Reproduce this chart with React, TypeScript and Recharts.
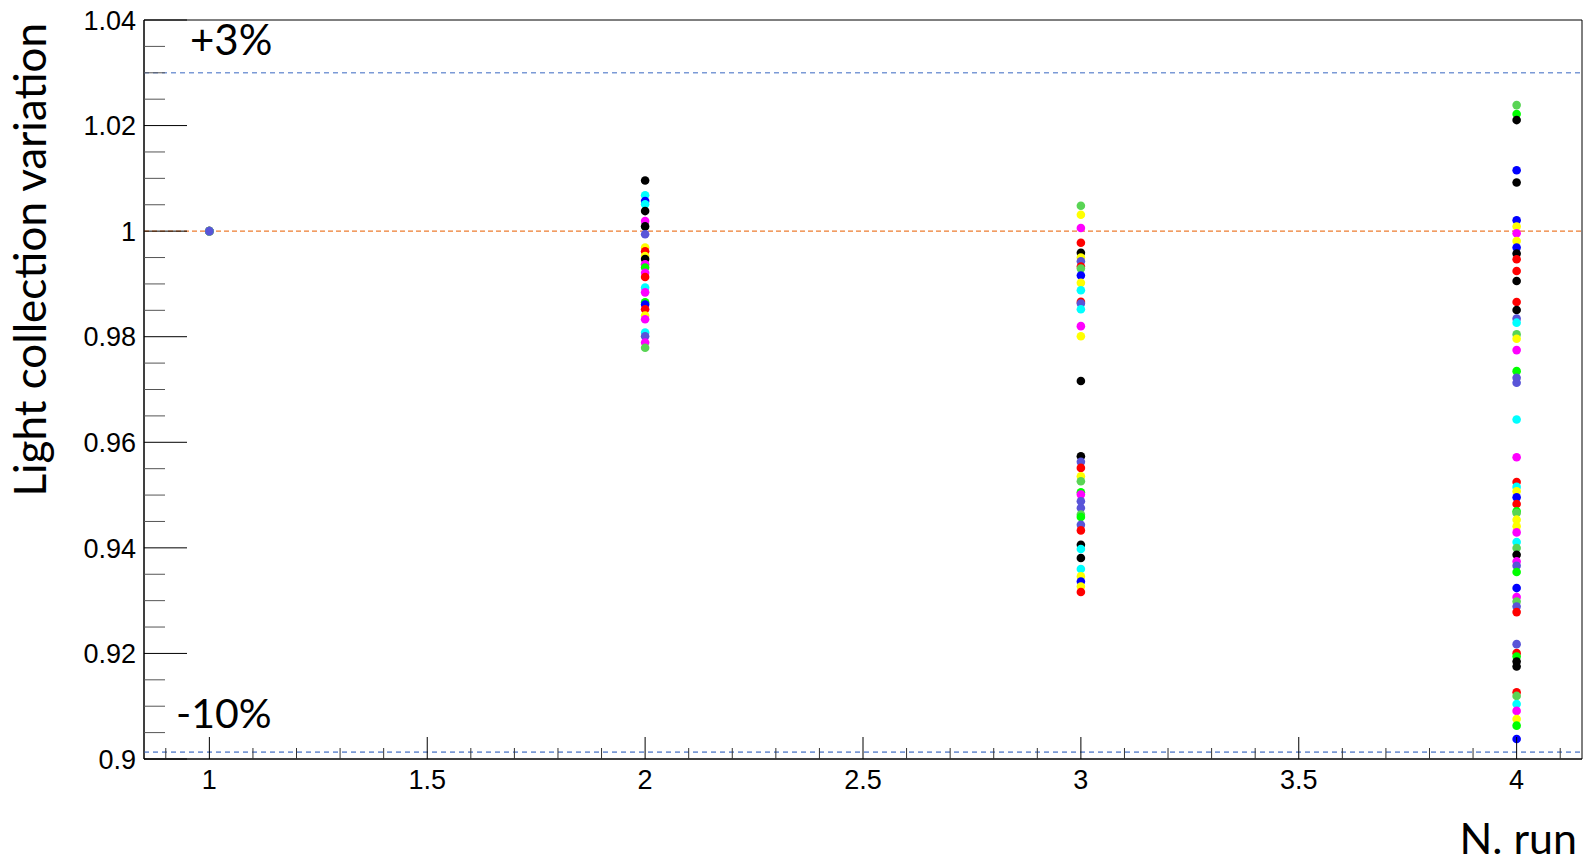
import React from 'react';
import {
  ScatterChart,
  Scatter,
  XAxis,
  YAxis,
  ReferenceLine,
  ReferenceArea,
} from 'recharts';

// ROOT palette, colour indices 1..9
const palette: Record<string, string> = {
  k: '#000000',
  r: '#ff0000',
  g: '#00ff00',
  b: '#0000ff',
  y: '#ffff00',
  m: '#ff00ff',
  c: '#00ffff',
  l: '#59d454',
  s: '#5954d8',
};

const runNumbers = [1, 2, 3, 4];

// Relative light collection per channel, one list per run
const run1Values = [1.0, 1.0, 1.0, 1.0, 1.0, 1.0, 1.0, 1.0, 1.0];
const run1Colors = ['k', 'r', 'g', 'b', 'y', 'm', 'c', 'l', 's'];

const run2Values = [
  1.0096, 1.0068, 1.0057, 1.0051, 1.0038, 1.0019, 1.0009, 0.9994, 0.9969, 0.9962,
  0.9953, 0.9947, 0.9937, 0.9931, 0.9921, 0.9913, 0.9893, 0.9884, 0.9865, 0.9861,
  0.9852, 0.984, 0.9833, 0.9808, 0.9801, 0.9789, 0.9779,
];
const run2Colors = [
  'k', 'c', 'b', 'c', 'k', 'm', 'k', 's', 'y', 'r',
  'y', 'k', 'm', 'g', 'm', 'r', 'c', 'm', 'g', 'b',
  'r', 'y', 'm', 'c', 's', 'm', 'l',
];

const run3Values = [
  1.0048, 1.0031, 1.0006, 0.9978, 0.9959, 0.995, 0.9943, 0.9933, 0.9929, 0.9916,
  0.9902, 0.9888, 0.9866, 0.9863, 0.9852, 0.982, 0.9801, 0.9716, 0.95735, 0.95629,
  0.95515, 0.95356, 0.95261, 0.95052, 0.95009, 0.94882, 0.94756, 0.94629, 0.94585, 0.94439,
  0.94331, 0.9406, 0.93978, 0.93808, 0.93599, 0.93459, 0.93364, 0.93269, 0.93163,
];
const run3Colors = [
  'l', 'y', 'm', 'r', 'k', 'y', 's', 'r', 'l', 'b',
  'y', 'c', 'r', 's', 'c', 'm', 'y', 'k', 'k', 's',
  'r', 'y', 'l', 'g', 'm', 's', 's', 'l', 'g', 's',
  'r', 'k', 'c', 'k', 'c', 'y', 'b', 'y', 'r',
];

const run4Values = [
  1.02388, 1.02218, 1.02104, 1.01155, 1.00922, 1.00207, 1.00087, 0.9996, 0.99814, 0.99689,
  0.99575, 0.99467, 0.99245, 0.99055, 0.98657, 0.98505, 0.98342, 0.98266, 0.98044, 0.97962,
  0.97746, 0.97348, 0.97222, 0.97128, 0.96431, 0.95716, 0.95249, 0.95155, 0.95071, 0.94957,
  0.94832, 0.94692, 0.94661, 0.94534, 0.94407, 0.94293, 0.94111, 0.93997, 0.9387, 0.93743,
  0.93662, 0.93542, 0.93238, 0.93067, 0.92984, 0.92889, 0.92783, 0.92176, 0.92005, 0.91941,
  0.91846, 0.91751, 0.91265, 0.91195, 0.91043, 0.90911, 0.90759, 0.90632, 0.90379,
];
const run4Colors = [
  'l', 'g', 'k', 'b', 'k', 'b', 'y', 'm', 'y', 'b',
  'k', 'r', 'r', 'k', 'r', 'k', 's', 'c', 'l', 'y',
  'm', 'g', 's', 's', 'c', 'm', 'r', 'c', 'y', 'b',
  'r', 'g', 'l', 'y', 'y', 'm', 'c', 'l', 'k', 'm',
  's', 'g', 'b', 'm', 'l', 's', 'r', 's', 'r', 'g',
  'k', 'k', 'r', 'l', 'c', 'm', 'y', 'g', 'b',
];

const runValues = [run1Values, run2Values, run3Values, run4Values];
const runColors = [run1Colors, run2Colors, run3Colors, run4Colors];

// Reference bands
const upperLimit = 1.03;
const nominal = 1.0;
const lowerLimit = 0.9013;

// Axes
const xDomain: [number, number] = [0.85, 4.15];
const yDomain: [number, number] = [0.9, 1.04];
const xMajorTicks = [1, 1.5, 2, 2.5, 3, 3.5, 4];
const xTickLabels = ['1', '1.5', '2', '2.5', '3', '3.5', '4'];
const yMajorTicks = [0.9, 0.92, 0.94, 0.96, 0.98, 1.0, 1.02, 1.04];
const yTickLabels = ['0.9', '0.92', '0.94', '0.96', '0.98', '1', '1.02', '1.04'];
const xTicks = Array.from({ length: 33 }, (_, i) => +(0.9 + i * 0.1).toFixed(2));
const yTicks = Array.from({ length: 29 }, (_, i) => +(0.9 + i * 0.005).toFixed(3));

const points = runNumbers.flatMap((run, i) =>
  runValues[i].map((v, j) => ({ x: run, y: v, color: palette[runColors[i][j]] }))
);

const tickFont = '"Liberation Sans", Arial, sans-serif';
const titleFont = 'Lato, "Open Sans", sans-serif';

const findMajor = (list: number[], v: number) =>
  list.findIndex((t) => Math.abs(t - v) < 1e-6);

const YTick = (props: any) => {
  const { x, y, payload } = props;
  const idx = findMajor(yMajorTicks, payload.value);
  const major = idx >= 0;
  return (
    <g>
      <line
        x1={x}
        x2={x + (major ? 43 : 21)}
        y1={y}
        y2={y}
        stroke={major ? '#000' : '#555'}
        strokeWidth={1}
      />
      {major && (
        <text
          x={x - 8}
          y={y}
          dy="0.36em"
          textAnchor="end"
          fontFamily={tickFont}
          fontSize={27}
          fill="#000"
        >
          {yTickLabels[idx]}
        </text>
      )}
    </g>
  );
};

const XTick = (props: any) => {
  const { x, y, payload } = props;
  const idx = findMajor(xMajorTicks, payload.value);
  const major = idx >= 0;
  return (
    <g>
      <line
        x1={x}
        x2={x}
        y1={y}
        y2={y - (major ? 22 : 11)}
        stroke={major ? '#000' : '#333'}
        strokeWidth={1}
      />
      {major && (
        <text
          x={x}
          y={y + 30}
          textAnchor="middle"
          fontFamily={tickFont}
          fontSize={27}
          fill="#000"
        >
          {xTickLabels[idx]}
        </text>
      )}
    </g>
  );
};

const YTitle = (props: any) => {
  const vb = props.viewBox || { x: 0, y: 0 };
  const tx = vb.x + 46;
  const ty = vb.y + 3;
  return (
    <text
      x={tx}
      y={ty}
      transform={`rotate(-90 ${tx} ${ty})`}
      textAnchor="end"
      fontFamily={titleFont}
      fontSize={44}
      fill="#000"
    >
      Light collection variation
    </text>
  );
};

const XTitle = (props: any) => {
  const vb = props.viewBox || { x: 0, y: 0, width: 0 };
  return (
    <text
      x={vb.x + vb.width - 5}
      y={vb.y + 95}
      textAnchor="end"
      fontFamily={titleFont}
      fontSize={43}
      fill="#000"
    >
      N. run
    </text>
  );
};

const BandLabel = (props: any) => {
  const vb = props.viewBox || { x: 0, y: 0 };
  return (
    <text
      x={vb.x + props.dx}
      y={vb.y + props.dy}
      fontFamily={titleFont}
      fontSize={props.size}
      fill="#000"
    >
      {props.text}
    </text>
  );
};

const Dot = (props: any) => {
  const { cx, cy, payload } = props;
  if (cx == null || cy == null) return null;
  return <circle cx={cx} cy={cy} r={4.3} fill={payload.color} />;
};

export default function App() {
  return (
    <div style={{ position: 'absolute', left: 0, top: 0, width: 1587, height: 862, background: '#fff' }}>
      <ScatterChart
        width={1587}
        height={862}
        margin={{ top: 20, right: 5, bottom: 0, left: 0 }}
      >
        <XAxis
          type="number"
          dataKey="x"
          domain={xDomain}
          ticks={xTicks}
          interval={0}
          allowDataOverflow
          height={103}
          tickSize={0}
          tickMargin={0}
          tickLine={false}
          axisLine={{ stroke: '#000', strokeWidth: 1 }}
          tick={<XTick />}
          label={<XTitle />}
        />
        <YAxis
          type="number"
          dataKey="y"
          domain={yDomain}
          ticks={yTicks}
          interval={0}
          allowDataOverflow
          width={144}
          tickSize={0}
          tickMargin={0}
          tickLine={false}
          axisLine={{ stroke: '#000', strokeWidth: 1 }}
          tick={<YTick />}
          label={<YTitle />}
        />
        <ReferenceArea
          x1={xDomain[0]}
          x2={xDomain[1]}
          y1={yDomain[0]}
          y2={yDomain[1]}
          fill="none"
          stroke="#000"
          strokeWidth={1}
          fillOpacity={0}
        />
        <ReferenceLine
          y={upperLimit}
          stroke="#7b9ad6"
          strokeWidth={1.6}
          strokeDasharray="5 4"
          label={<BandLabel text="+3%" dx={46} dy={-18} size={42} />}
        />
        <ReferenceLine
          y={lowerLimit}
          stroke="#7b9ad6"
          strokeWidth={1.6}
          strokeDasharray="5 4"
          label={<BandLabel text="-10%" dx={32} dy={-24} size={41} />}
        />
        <ReferenceLine
          y={nominal}
          stroke="#ed7d31"
          strokeWidth={1.4}
          strokeDasharray="5 3"
        />
        <Scatter data={points} isAnimationActive={false} shape={<Dot />} />
      </ScatterChart>
    </div>
  );
}
